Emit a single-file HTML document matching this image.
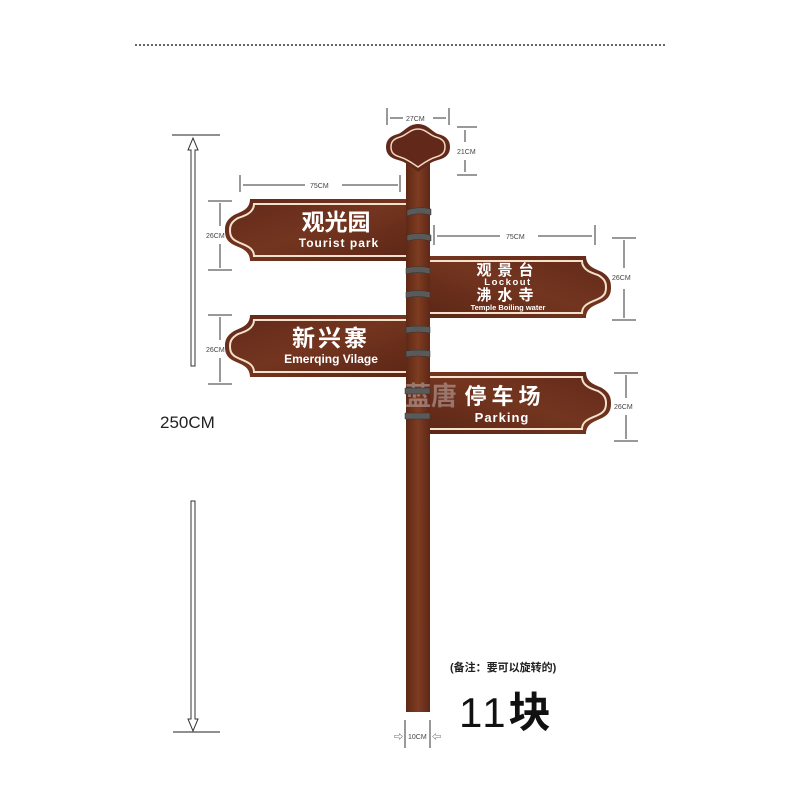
<!DOCTYPE html>
<html><head><meta charset="utf-8"><style>
html,body{margin:0;padding:0;background:#fff;width:800px;height:800px;overflow:hidden}
svg text{font-family:"Liberation Sans","Noto Sans CJK SC",sans-serif}
</style></head><body>
<svg width="800" height="800" viewBox="0 0 800 800" xmlns="http://www.w3.org/2000/svg">
<defs>
<linearGradient id="wood" x1="0" y1="0" x2="1" y2="1">
<stop offset="0" stop-color="#62291a"/><stop offset="0.5" stop-color="#73351f"/><stop offset="1" stop-color="#5c2616"/>
</linearGradient>
<linearGradient id="pole" x1="0" y1="0" x2="1" y2="0">
<stop offset="0" stop-color="#5e2816"/><stop offset="0.5" stop-color="#7e3c22"/><stop offset="1" stop-color="#5e2816"/>
</linearGradient>
</defs>
<line x1="135" y1="45" x2="665" y2="45" stroke="#666" stroke-width="2" stroke-dasharray="2,2"/>

<line x1="172" y1="135" x2="220" y2="135" stroke="#222" stroke-width="1"/>
<path d="M191,366 L191,150 L188,150 L193,138 L198,150 L195,150 L195,366 Z" fill="#fff" stroke="#333" stroke-width="1"/>
<path d="M191,501 L191,719 L188,719 L193,731 L198,719 L195,719 L195,501 Z" fill="#fff" stroke="#333" stroke-width="1"/>
<line x1="173" y1="732" x2="220" y2="732" stroke="#222" stroke-width="1"/>
<text x="160" y="428" font-size="17" fill="#222">250CM</text>

<rect x="406" y="160" width="24" height="552" fill="url(#pole)"/>
<path d="M418,124 C408,124 404,132 398,134 C390,136 386,140 386,147 C386,154 390,158 398,160 C406,162 410,166 418,172 C426,166 430,162 438,160 C446,158 450,154 450,147 C450,140 446,136 438,134 C432,132 428,124 418,124 Z" fill="#62291a"/>
<path d="M418,129 C410,129 407,135 400,137 C393,139 391,142 391,147 C391,152 393,155 400,157 C407,159 412,163 418,167 C424,163 429,159 436,157 C443,155 445,152 445,147 C445,142 443,139 436,137 C429,135 426,129 418,129 Z" fill="none" stroke="#f0d8c0" stroke-width="1.5"/>

<g id="L1">
<path d="M406,199 L250,199 C250,210 240,212 234,215 C226,220 225,225 225,230 C225,236 226,241 234,245 C240,248 250,250 250,261 L406,261 Z" fill="url(#wood)"/>
<path d="M406,204 L254,204 C254,213 244,216 238,218 C231,222 230,226 230,230 C230,235 231,239 238,242 C244,245 254,247 254,256 L406,256" fill="none" stroke="#f3e1cc" stroke-width="2"/>
</g>
<text x="336" y="230" font-size="23" font-weight="bold" fill="#fff" text-anchor="middle">观光园</text>
<text x="339" y="247" font-size="12" font-weight="bold" fill="#fff" text-anchor="middle" letter-spacing="1">Tourist park</text>

<g transform="translate(0,116)">
<path d="M406,199 L250,199 C250,210 240,212 234,215 C226,220 225,225 225,230 C225,236 226,241 234,245 C240,248 250,250 250,261 L406,261 Z" fill="url(#wood)"/>
<path d="M406,204 L254,204 C254,213 244,216 238,218 C231,222 230,226 230,230 C230,235 231,239 238,242 C244,245 254,247 254,256 L406,256" fill="none" stroke="#f3e1cc" stroke-width="2"/>
</g>
<text x="331" y="346" font-size="23" font-weight="bold" fill="#fff" text-anchor="middle" letter-spacing="3">新兴寨</text>
<text x="331" y="363" font-size="12" font-weight="bold" fill="#fff" text-anchor="middle">Emerqing Vilage</text>

<g transform="translate(836,57) scale(-1,1)">
<path d="M406,199 L250,199 C250,210 240,212 234,215 C226,220 225,225 225,230 C225,236 226,241 234,245 C240,248 250,250 250,261 L406,261 Z" fill="url(#wood)"/>
<path d="M406,204 L254,204 C254,213 244,216 238,218 C231,222 230,226 230,230 C230,235 231,239 238,242 C244,245 254,247 254,256 L406,256" fill="none" stroke="#f3e1cc" stroke-width="2"/>
</g>
<text x="508" y="275" font-size="15" font-weight="bold" fill="#fff" text-anchor="middle" letter-spacing="6">观景台</text>
<text x="508" y="285" font-size="9.5" font-weight="bold" fill="#fff" text-anchor="middle" letter-spacing="1.5">Lockout</text>
<text x="508" y="300" font-size="15" font-weight="bold" fill="#fff" text-anchor="middle" letter-spacing="6">沸水寺</text>
<text x="508" y="310" font-size="7.5" font-weight="bold" fill="#fff" text-anchor="middle">Temple Boiling water</text>

<g transform="translate(836,173) scale(-1,1)">
<path d="M406,199 L250,199 C250,210 240,212 234,215 C226,220 225,225 225,230 C225,236 226,241 234,245 C240,248 250,250 250,261 L406,261 Z" fill="url(#wood)"/>
<path d="M406,204 L254,204 C254,213 244,216 238,218 C231,222 230,226 230,230 C230,235 231,239 238,242 C244,245 254,247 254,256 L406,256" fill="none" stroke="#f3e1cc" stroke-width="2"/>
</g>
<text x="505" y="404" font-size="22" font-weight="bold" fill="#fff" text-anchor="middle" letter-spacing="5">停车场</text>
<text x="502" y="422" font-size="13" font-weight="bold" fill="#fff" text-anchor="middle" letter-spacing="1">Parking</text>
<text x="405" y="405" font-size="26" font-weight="bold" fill="#c0b0b0" opacity="0.55">蓝唐</text>

<g fill="#5a5a5a" stroke="#333" stroke-width="0.5">
<path d="M407,210 Q418,206 431,209 L431,215 Q418,212 407,216 Z"/>
<path d="M407,235 Q418,232 431,235 L431,241 Q418,238 407,241 Z"/>
<path d="M406,268 Q418,265 430,268 L430,274 Q418,271 406,274 Z"/>
<path d="M406,292 Q418,289 430,292 L430,298 Q418,295 406,298 Z"/>
<path d="M406,327 Q418,325 430,327 L430,333 Q418,331 406,333 Z"/>
<path d="M406,351 Q418,349 430,351 L430,357 Q418,355 406,357 Z"/>
<path d="M405,388 L430,388 L430,394 L405,394 Z"/>
<path d="M405,413 L430,413 L430,419 L405,419 Z"/>
</g>

<g stroke="#333" stroke-width="1" fill="none">
<line x1="387" y1="108" x2="387" y2="125"/><line x1="449" y1="108" x2="449" y2="125"/>
<line x1="390" y1="118" x2="403" y2="118"/><line x1="433" y1="118" x2="446" y2="118"/>
<line x1="457" y1="127" x2="477" y2="127"/><line x1="457" y1="175" x2="477" y2="175"/>
<line x1="465" y1="130" x2="465" y2="142"/><line x1="465" y1="160" x2="465" y2="172"/>
<line x1="240" y1="175" x2="240" y2="192"/><line x1="400" y1="175" x2="400" y2="192"/>
<line x1="243" y1="185" x2="305" y2="185"/><line x1="342" y1="185" x2="398" y2="185"/>
<line x1="434" y1="225" x2="434" y2="245"/><line x1="595" y1="225" x2="595" y2="245"/>
<line x1="437" y1="236" x2="500" y2="236"/><line x1="538" y1="236" x2="592" y2="236"/>
<line x1="208" y1="201" x2="232" y2="201"/><line x1="208" y1="270" x2="232" y2="270"/>
<line x1="220" y1="203" x2="220" y2="226"/><line x1="220" y1="244" x2="220" y2="268"/>
<line x1="208" y1="315" x2="232" y2="315"/><line x1="208" y1="384" x2="232" y2="384"/>
<line x1="220" y1="317" x2="220" y2="340"/><line x1="220" y1="358" x2="220" y2="382"/>
<line x1="612" y1="238" x2="636" y2="238"/><line x1="612" y1="320" x2="636" y2="320"/>
<line x1="624" y1="240" x2="624" y2="268"/><line x1="624" y1="289" x2="624" y2="318"/>
<line x1="614" y1="373" x2="638" y2="373"/><line x1="614" y1="441" x2="638" y2="441"/>
<line x1="626" y1="375" x2="626" y2="398"/><line x1="626" y1="415" x2="626" y2="439"/>
<line x1="405" y1="720" x2="405" y2="748"/><line x1="430" y1="720" x2="430" y2="748"/>
</g>
<g font-size="7" fill="#444">
<text x="406" y="121">27CM</text>
<text x="457" y="154">21CM</text>
<text x="310" y="188">75CM</text>
<text x="506" y="239">75CM</text>
<text x="206" y="238">26CM</text>
<text x="206" y="352">26CM</text>
<text x="612" y="280">26CM</text>
<text x="614" y="409">26CM</text>
<text x="408" y="739">10CM</text>
<text x="394" y="740" font-size="9">⇨</text><text x="432" y="740" font-size="9">⇦</text>
</g>

<text x="450" y="671" font-size="11" font-weight="bold" fill="#222">(备注：要可以旋转的)</text>
<text x="459" y="727" font-size="42" fill="#111" letter-spacing="3">11<tspan font-weight="bold">块</tspan></text>
</svg>
</body></html>
